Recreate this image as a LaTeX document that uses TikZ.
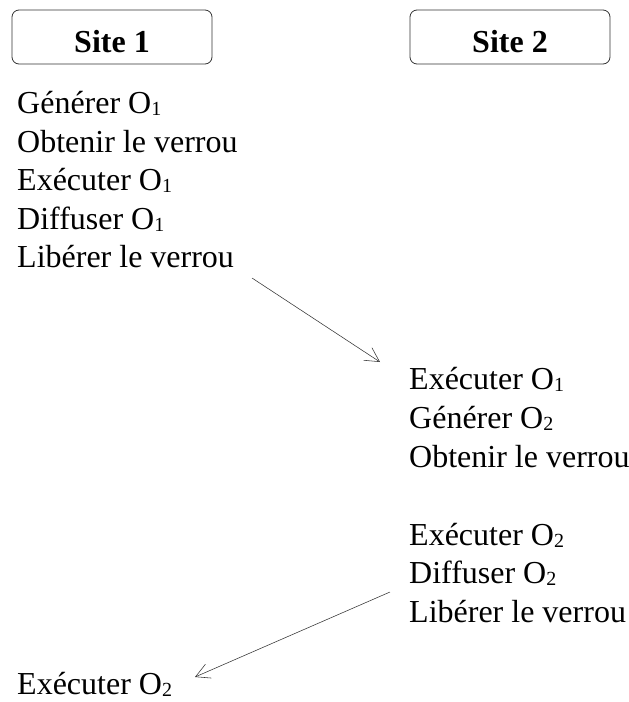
\documentclass[tikz,border=0pt]{standalone}
\usepackage{fontspec}
\setmainfont{Liberation Serif}
\usetikzlibrary{arrows.meta}
% small lowered index after an operation name
\newcommand\opidx[1]{\raisebox{-2pt}{\fontsize{20}{20}\selectfont #1}}
\begin{document}
\begin{tikzpicture}[x=1pt,y=-1pt,
  sitebox/.style={draw=black!80,line width=0.8pt,rounded corners=7pt},
  sitelabel/.style={font=\fontsize{32}{38}\selectfont\bfseries,anchor=base,inner sep=0pt},
  stepline/.style={font=\fontsize{32}{38}\selectfont,anchor=base west,inner sep=0pt},
  msg/.style={draw=black!80,line width=0.55pt,-{Straight Barb[length=14pt,width=15pt,line width=0.55pt]}}]
\useasboundingbox (0,0) rectangle (629,702);

% site headers
\draw[sitebox] (12,10) rectangle (212,64);
\draw[sitebox] (410,10) rectangle (610,64);
\node[sitelabel] (s1) at (112,52) {Site 1};
\node[sitelabel] (s2) at (510,52) {Site 2};

% site 1 steps
\node[stepline] (a1) at (17,113) {Générer O\opidx{1}};
\node[stepline] (a2) at (17,152) {Obtenir le verrou};
\node[stepline] (a3) at (17,190.5) {Exécuter O\opidx{1}};
\node[stepline] (a4) at (17,229) {Diffuser O\opidx{1}};
\node[stepline] (a5) at (17,267.5) {Libérer le verrou};

% site 2 steps
\node[stepline] (b1) at (409,389) {Exécuter O\opidx{1}};
\node[stepline] (b2) at (409,428) {Générer O\opidx{2}};
\node[stepline] (b3) at (409,467.5) {Obtenir le verrou};
\node[stepline] (b4) at (409,545) {Exécuter O\opidx{2}};
\node[stepline] (b5) at (409,583.5) {Diffuser O\opidx{2}};
\node[stepline] (b6) at (409,622) {Libérer le verrou};

% site 1 again
\node[stepline] (c1) at (17,694) {Exécuter O\opidx{2}};

% messages
\coordinate (m1s) at (252,278);
\coordinate (m1e) at (380,362);
\coordinate (m2s) at (390,592);
\coordinate (m2e) at (195,677);
\draw[msg] (m1s) -- (m1e);
\draw[msg] (m2s) -- (m2e);
\end{tikzpicture}
\end{document}
